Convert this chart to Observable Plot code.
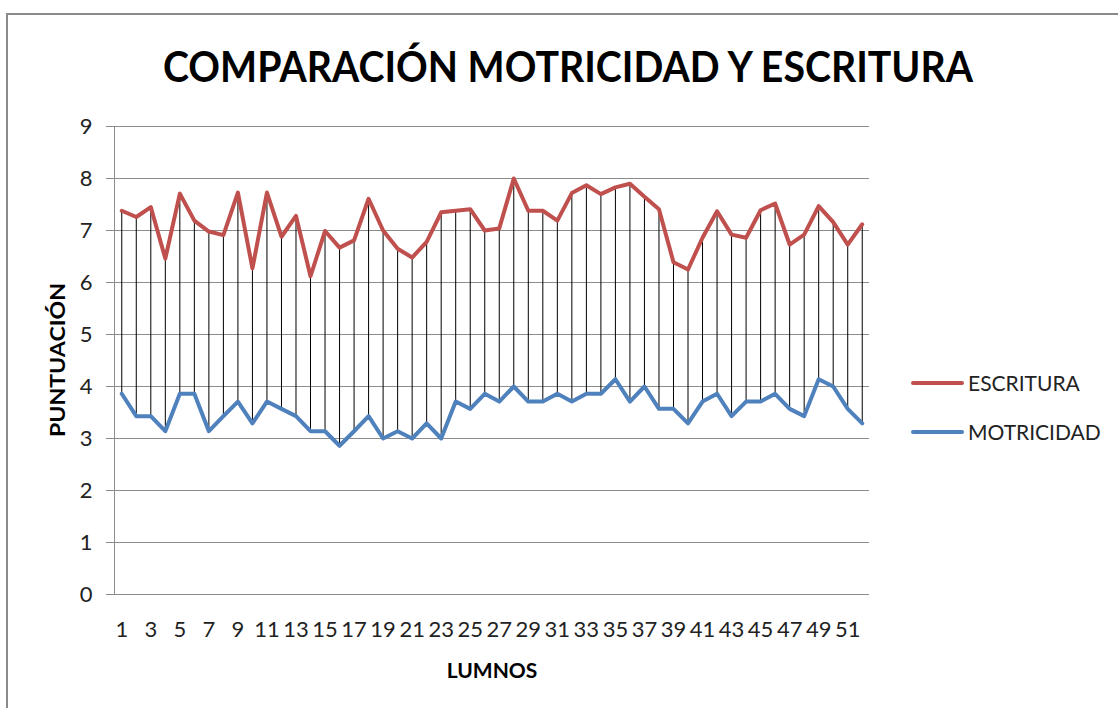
<!DOCTYPE html>
<html><head><meta charset="utf-8">
<script src="https://cdn.jsdelivr.net/npm/d3@7"></script>
<script src="https://cdn.jsdelivr.net/npm/@observablehq/plot@0.6"></script>
<style>body{margin:0;background:#fff;overflow:hidden} #chart{position:relative;width:1118px;height:708px}</style>
</head><body><div id="chart"></div>
<script>
const alumnos = d3.range(1, 53);
const escritura = [7.38,7.26,7.45,6.46,7.71,7.19,6.98,6.91,7.73,6.27,
  7.73,6.88,7.28,6.12,6.99,6.67,6.81,7.61,7.0,6.65,
  6.48,6.78,7.35,7.38,7.41,7.0,7.04,8.0,7.38,7.38,
  7.19,7.72,7.87,7.70,7.83,7.90,7.65,7.41,6.39,6.25,
  6.86,7.37,6.92,6.86,7.39,7.52,6.73,6.92,7.47,7.16,
  6.73,7.12];
const motricidad = [3.86,3.43,3.43,3.14,3.86,3.86,3.14,3.43,3.71,3.29,
  3.71,3.57,3.43,3.14,3.14,2.86,3.14,3.43,3.0,3.14,
  3.0,3.29,3.0,3.71,3.57,3.86,3.71,4.0,3.71,3.71,
  3.86,3.71,3.86,3.86,4.14,3.71,4.0,3.57,3.57,3.29,
  3.71,3.86,3.43,3.71,3.71,3.86,3.57,3.43,4.14,4.0,
  3.57,3.29];
const xTicks = alumnos.filter(d => d % 2 === 1);
const yTicks = d3.range(0, 10);
const seriesNames = ["ESCRITURA", "MOTRICIDAD"];
const seriesColors = ["#C0504D", "#4F81BD"];
const titleText = "COMPARACIÓN MOTRICIDAD Y ESCRITURA";
const yLabel = "PUNTUACIÓN";
const xLabel = "LUMNOS";

const data = alumnos.map((n, i) => ({n, e: escritura[i], m: motricidad[i]}));

const plot = Plot.plot({
  width: 1118, height: 708,
  marginLeft: 114, marginRight: 249, marginTop: 126, marginBottom: 114,
  style: {fontFamily: "Lato, sans-serif", background: "white", overflow: "visible", color: "#222"},
  x: {type: "point", domain: alumnos, padding: 0.5, round: false},
  y: {domain: [0, 9]},
  marks: [
    Plot.ruleY(yTicks, {stroke: "#8c8c8c", strokeWidth: 1, insetLeft: -8}),
    Plot.axisY({ticks: yTicks, tickSize: 0, tickPadding: 22, fontSize: 22, label: null, fill: "#222"}),
    Plot.axisX({ticks: xTicks, tickSize: 0, tickPadding: 27, fontSize: 22, label: null, fill: "#222"}),
    Plot.frame({anchor: "left", stroke: "#8c8c8c"}),
    Plot.ruleX(data, {x: "n", y1: "m", y2: "e", stroke: "black", strokeWidth: 1}),
    Plot.line(data, {x: "n", y: "e", stroke: seriesColors[0], strokeWidth: 4}),
    Plot.line(data, {x: "n", y: "m", stroke: seriesColors[1], strokeWidth: 4})
  ]
});
document.getElementById("chart").appendChild(plot);

const svg = d3.select(plot);
svg.insert("rect", ":first-child")
  .attr("x", 7).attr("y", 14).attr("width", 1300).attr("height", 900)
  .attr("fill", "none").attr("stroke", "#8a8a8a").attr("stroke-width", 2);

svg.append("text").text(titleText)
  .attr("x", 568).attr("y", 82).attr("text-anchor", "middle")
  .attr("font-family", "Lato, sans-serif").attr("font-weight", "bold").attr("font-size", 42)
  .attr("fill", "#000").attr("textLength", 810).attr("lengthAdjust", "spacingAndGlyphs");

svg.append("text").text(yLabel)
  .attr("transform", "translate(65,360) rotate(-90)").attr("text-anchor", "middle")
  .attr("font-family", "Lato, sans-serif").attr("font-weight", "bold").attr("font-size", 21)
  .attr("fill", "#000").attr("textLength", 154).attr("lengthAdjust", "spacingAndGlyphs");

svg.append("text").text(xLabel)
  .attr("x", 492).attr("y", 678).attr("text-anchor", "middle")
  .attr("font-family", "Lato, sans-serif").attr("font-weight", "bold").attr("font-size", 21)
  .attr("fill", "#000");

seriesNames.forEach((name, i) => {
  const y = 383 + i * 49;
  svg.append("line").attr("x1", 913).attr("x2", 962).attr("y1", y).attr("y2", y)
    .attr("stroke", seriesColors[i]).attr("stroke-width", 4).attr("stroke-linecap", "round");
  svg.append("text").text(name).attr("x", 968).attr("y", y + 8).attr("text-anchor", "start")
    .attr("font-family", "Lato, sans-serif").attr("font-size", 21).attr("fill", "#222");
});
</script></body></html>
